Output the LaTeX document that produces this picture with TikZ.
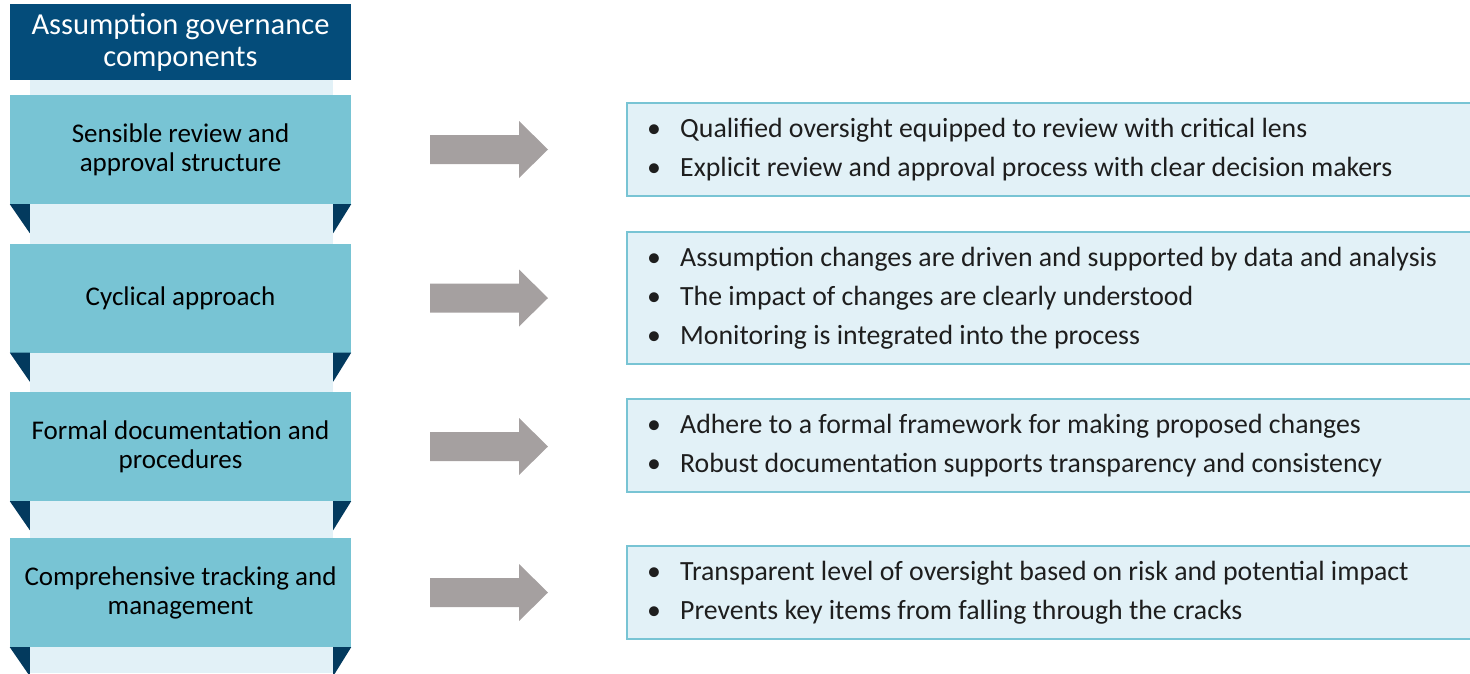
\documentclass[tikz,border=0pt]{standalone}
\usepackage{fontspec}
\setmainfont{Carlito}
\definecolor{navy}{RGB}{4,76,122}
\definecolor{foldnavy}{RGB}{3,58,94}
\definecolor{teal}{RGB}{120,196,212}
\definecolor{pale}{RGB}{226,241,247}
\definecolor{arrowgray}{RGB}{165,160,160}
\definecolor{bodytext}{RGB}{30,30,30}
\newcommand{\bitem}[1]{\hbox to 33pt{\textbullet\hfil}#1}
\begin{document}
\begin{tikzpicture}[x=1pt,y=-1pt,
  header/.style={fill=navy,text=white,align=center,inner sep=0,
    minimum width=341pt,minimum height=76pt,
    font=\fontsize{30.5}{32}\selectfont},
  component/.style={fill=teal,text=black,align=center,inner sep=0,
    minimum width=341pt,minimum height=109pt,
    font=\fontsize{27}{29}\selectfont},
  detail/.style={fill=pale,draw=teal,line width=2pt,inner sep=0,
    minimum width=870pt},
  detailtext/.style={anchor=west,align=left,inner sep=0,text=bodytext,
    font=\fontsize{27.8}{39}\selectfont},
  fold/.style={fill=foldnavy},
  blockarrow/.style={fill=arrowgray}
]
\useasboundingbox (0,0) rectangle (1470,673);

% pale backing strip behind the component column
\fill[pale] (30,80) rectangle (333,673);

% header
\node[header] (head) at (180.5,42) {Assumption governance\\components};

% component boxes with folded corners
\foreach \name/\cy/\txt in {c1/149.5/{Sensible review and\\approval structure},
                            c2/298/{Cyclical approach},
                            c3/446.5/{Formal documentation and\\procedures},
                            c4/592.5/{Comprehensive tracking and\\management}}{
  \node[component] (\name) at (180.5,\cy) {\txt};
  \fill[fold] (\name.south west) -- ++(20,0) -- ++(0,29) -- cycle;
  \fill[fold] (\name.south east) -- ++(-18,0) -- ++(0,29) -- cycle;
}

% detail boxes
\node[detail,minimum height=93pt,anchor=west] (d1) at (626,149.5) {};
\node[detail,minimum height=132pt,anchor=west] (d2) at (626,298) {};
\node[detail,minimum height=93pt,anchor=west] (d3) at (626,445.5) {};
\node[detail,minimum height=93pt,anchor=west] (d4) at (626,592.5) {};

\node[detailtext] (t1) at ([xshift=21pt]d1.west) {%
  \bitem{Qualified oversight equipped to review with critical lens}\\
  \bitem{Explicit review and approval process with clear decision makers}};
\node[detailtext] (t2) at ([xshift=21pt]d2.west) {%
  \bitem{Assumption changes are driven and supported by data and analysis}\\
  \bitem{The impact of changes are clearly understood}\\
  \bitem{Monitoring is integrated into the process}};
\node[detailtext] (t3) at ([xshift=21pt]d3.west) {%
  \bitem{Adhere to a formal framework for making proposed changes}\\
  \bitem{Robust documentation supports transparency and consistency}};
\node[detailtext] (t4) at ([xshift=21pt]d4.west) {%
  \bitem{Transparent level of oversight based on risk and potential impact}\\
  \bitem{Prevents key items from falling through the cracks}};

% block arrows between each component and its details
\foreach \i in {1,2,3,4}{
  \coordinate (a\i) at (430,0 |- c\i.center);
  \fill[blockarrow] ([yshift=14.5pt]a\i) -- ++(89,0) -- ++(0,-14)
     -- ++(29,28.5) -- ++(-29,28.5) -- ++(0,-14) -- ++(-89,0) -- cycle;
}
\end{tikzpicture}
\end{document}
